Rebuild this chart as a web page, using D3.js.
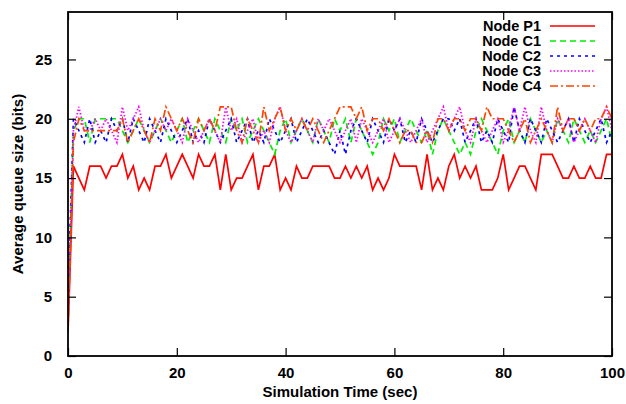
<!DOCTYPE html>
<html>
<head>
<meta charset="utf-8"/>
<script src="https://d3js.org/d3.v7.min.js"></script>
<style>
  body { margin: 0; background: #fff; }
  text { font-family: "Liberation Sans", Arial, sans-serif; font-weight: bold; }
</style>
</head>
<body>
<div id="chart"></div>
<script>
// time axis: one sample per second, 0..100
var times = d3.range(0, 101);

var seriesNames = ["Node P1", "Node C1", "Node C2", "Node C3", "Node C4"];

var nodeP1 = [2,16,15,14,16,16,16,15,16,16,17,15,16,14,15,14,16,16,17,15,
  16,17,16,15,17,16,16,17,14,17,14,15,15,16,17,14,16,16,17,14,
  15,14,16,15,15,16,16,16,16,15,15,16,15,16,15,16,14,15,14,15,
  17,16,16,16,16,14,17,14,15,14,16,17,15,16,15,16,14,14,14,15,
  17,14,15,16,16,15,14,17,17,17,16,15,15,16,15,15,16,15,15,17,17];

var nodeC1 = [4,19,20,20,18,20,20,20,20,20,19,18,19,20,19,18,19,20,19,18,
  19,20,18,19,20,19,18,20,19,18,20,19,20,18,19,20,19,18,17,19,
  20,18,19,20,19,18,20,19,18,20,19,20,18,20,19,18,17,18,20,19,
  20,18,19,20,19,18,19,17,19,20,19,18,17,18,17,19,20,19,18,17,
  19,20,18,19,18,20,19,18,19,18,20,19,18,20,19,18,19,18,19,20,18];

var nodeC2 = [5,20,19,18,20,18,19,18,20,19,20,18,20,19,18,20,19,18,20,19,
  18,19,20,18,19,18,20,19,18,19,20,18,19,20,18,19,18,20,19,18,
  19,20,18,19,20,19,18,19,18,17,19,17,19,20,19,18,20,19,18,20,
  19,20,18,19,18,20,19,18,19,20,20,19,20,18,19,20,18,19,18,20,
  19,18,21,19,18,20,19,18,20,19,18,19,20,18,20,19,18,19,20,18,19];

var nodeC3 = [3,19,21,19,19,20,19,20,19,18,21,19,20,21,19,18,19,20,19,20,
  19,18,20,19,18,19,20,19,18,21,19,20,18,19,20,18,19,18,20,21,
  19,18,19,20,19,18,20,19,20,19,18,19,20,18,20,19,18,19,20,18,
  19,20,19,18,19,20,18,19,20,21,19,20,21,19,18,20,19,18,19,20,
  18,19,21,19,21,19,18,21,19,18,20,19,20,18,19,20,19,18,20,21,19];

var nodeC4 = [2,18,20,19,19,19,19,19,19,19,20,18,19,20,19,18,20,19,21,20,
  19,20,19,18,20,19,20,19,21,21,21,19,18,20,19,18,21,19,20,21,
  19,20,19,20,19,20,19,18,19,20,21,21,21,20,21,19,20,20,19,20,
  19,18,19,19,18,18,19,18,20,20,19,20,20,19,20,20,19,21,20,20,
  20,19,18,19,20,18,19,20,19,18,21,19,20,20,19,20,19,20,20,21,20];

var seriesValues = [nodeP1, nodeC1, nodeC2, nodeC3, nodeC4];
var seriesColors = ["#ff0000", "#00ee00", "#0000ff", "#ff00ff", "#ff4500"];
var seriesDash = [null, "6,4", "3,4", "1.5,2", "8,3,2,3"];

var xTicks = [0, 20, 40, 60, 80, 100];
var yTicks = [0, 5, 10, 15, 20, 25];

var W = 626, H = 404;
var margin = {top: 12, right: 14, bottom: 48, left: 68};
var width = W - margin.left - margin.right,
    height = H - margin.top - margin.bottom;

var svg = d3.select("#chart").append("svg")
    .attr("width", W)
    .attr("height", H);

var x = d3.scaleLinear().domain([0, 100]).range([0, width]);
var y = d3.scaleLinear().domain([0, 29]).range([height, 0]);

var g = svg.append("g")
    .attr("transform", "translate(" + margin.left + "," + margin.top + ")");

// clip so the lines stay in the frame
g.append("clipPath").attr("id", "clip")
  .append("rect").attr("width", width).attr("height", height);

var line = d3.line()
    .x(function(d, i) { return x(times[i]); })
    .y(function(d) { return y(d); });

var plot = g.append("g").attr("clip-path", "url(#clip)");
seriesValues.forEach(function(vals, i) {
  plot.append("path")
      .attr("d", line(vals))
      .attr("fill", "none")
      .attr("stroke", seriesColors[i])
      .attr("stroke-width", 1.7)
      .attr("stroke-dasharray", seriesDash[i]);
});

// axes, gnuplot style: ticks inside, mirrored
var tickLen = 8;
g.append("g")
    .attr("transform", "translate(0," + height + ")")
    .call(d3.axisBottom(x).tickValues(xTicks).tickSizeInner(-tickLen).tickSizeOuter(0).tickPadding(11))
    .call(function(a) { a.select(".domain").remove(); });
g.append("g")
    .call(d3.axisTop(x).tickValues(xTicks).tickSizeInner(-tickLen).tickSizeOuter(0).tickFormat(""))
    .call(function(a) { a.select(".domain").remove(); });
g.append("g")
    .call(d3.axisLeft(y).tickValues(yTicks).tickSizeInner(-tickLen).tickSizeOuter(0).tickPadding(16))
    .call(function(a) { a.select(".domain").remove(); });
g.append("g")
    .attr("transform", "translate(" + width + ",0)")
    .call(d3.axisRight(y).tickValues(yTicks).tickSizeInner(-tickLen).tickSizeOuter(0).tickFormat(""))
    .call(function(a) { a.select(".domain").remove(); });

g.selectAll(".tick line").attr("stroke", "#000").attr("stroke-width", 1.2);
g.selectAll(".tick text")
    .attr("fill", "#000")
    .style("font-size", "15px")
    .style("font-family", "'Liberation Sans', Arial, sans-serif")
    .style("font-weight", "bold");

g.append("rect")
    .attr("width", width)
    .attr("height", height)
    .attr("fill", "none")
    .attr("stroke", "#000")
    .attr("stroke-width", 1.8);

// axis titles
svg.append("text")
    .attr("x", margin.left + width / 2)
    .attr("y", 397)
    .attr("text-anchor", "middle")
    .style("font-size", "15px")
    .text("Simulation Time (sec)");

svg.append("text")
    .attr("transform", "translate(23," + (margin.top + height / 2) + ") rotate(-90)")
    .attr("text-anchor", "middle")
    .style("font-size", "15px")
    .text("Average queue size (bits)");

// legend
var legend = svg.append("g");
seriesNames.forEach(function(name, i) {
  var ly = 26 + i * 15;
  legend.append("text")
      .attr("x", 541)
      .attr("y", ly)
      .attr("dy", "0.35em")
      .attr("text-anchor", "end")
      .style("font-size", "14.5px")
      .text(name);
  legend.append("line")
      .attr("x1", 550).attr("x2", 595)
      .attr("y1", ly).attr("y2", ly)
      .attr("stroke", seriesColors[i])
      .attr("stroke-width", 1.5)
      .attr("stroke-dasharray", seriesDash[i]);
});
</script>
</body>
</html>
